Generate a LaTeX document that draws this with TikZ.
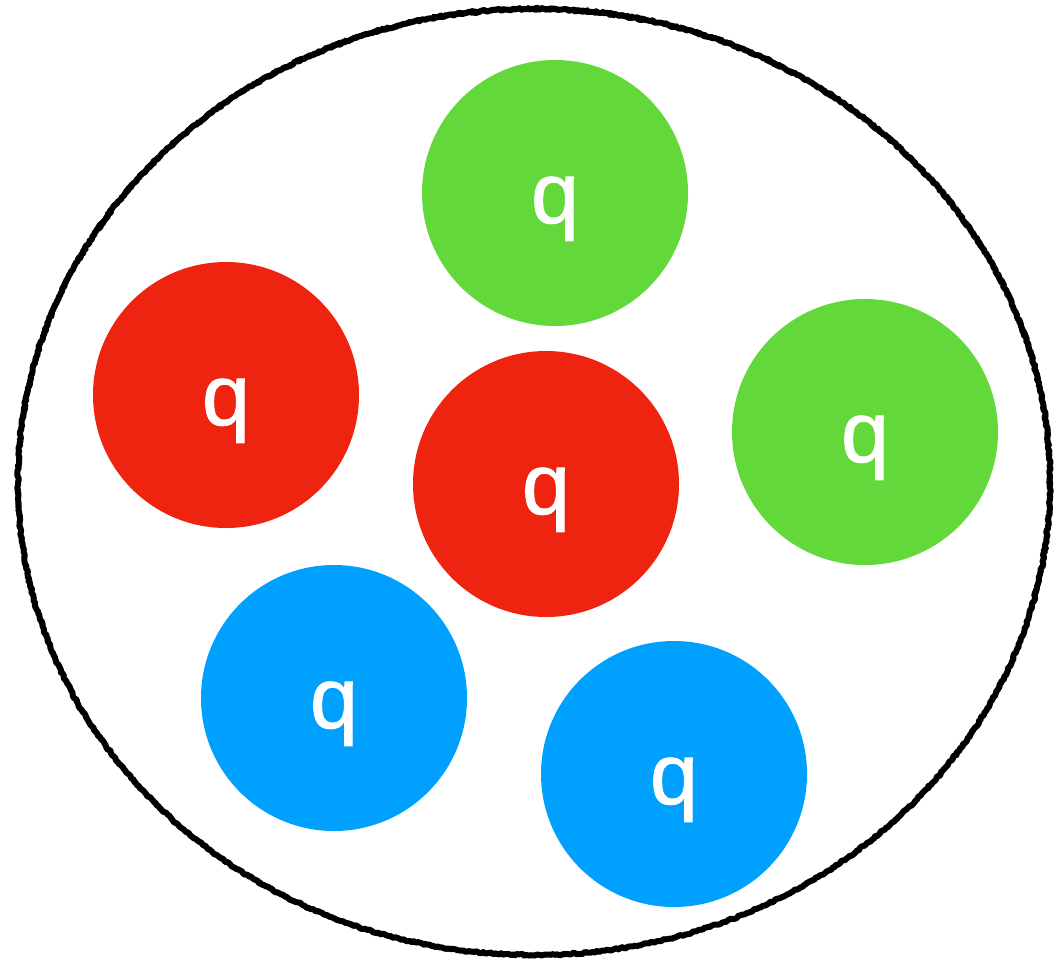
\documentclass[tikz,border=0pt]{standalone}
\usepackage{fontspec}
\setmainfont{Liberation Sans}
\newfontfamily\qfont[FakeBold=1.2]{Liberation Sans}
\usetikzlibrary{decorations.pathmorphing}
\definecolor{qred}{RGB}{238,35,16}
\definecolor{qgreen}{RGB}{98,216,58}
\definecolor{qblue}{RGB}{0,160,255}
\tikzset{
  ball/.style={circle, minimum size=266pt, inner sep=0pt, draw=none},
  qtext/.style={anchor=base, text=white, font=\qfont\fontsize{86}{90}\selectfont, inner sep=0pt},
  chalk/.style={draw=black, line width=6pt, line join=round, line cap=round, decorate, decoration={random steps, segment length=2pt, amplitude=0.9pt}}
}
\begin{document}
\begin{tikzpicture}[x=1pt,y=-1pt]
\useasboundingbox (0,0) rectangle (1057,962);
\pgfmathsetseed{7}
\path[chalk] (534,482) ellipse [x radius=516, y radius=473];
\path[chalk, line width=2pt, decoration={random steps, segment length=2.5pt, amplitude=1.3pt}] (534,481) ellipse [x radius=517, y radius=474];
\node[ball, fill=qgreen] (g1) at (555,193) {};
\node[ball, fill=qred] (r1) at (226,395) {};
\node[ball, fill=qred] (r2) at (546,484) {};
\node[ball, fill=qgreen] (g2) at (865,432) {};
\node[ball, fill=qblue] (b1) at (334,698) {};
\node[ball, fill=qblue] (b2) at (674,774) {};
\foreach \n in {g1,r1,r2,g2,b1,b2}{
  \node[qtext] (t\n) at ([yshift=-30pt]\n.center) {q};
}
\end{tikzpicture}
\end{document}
